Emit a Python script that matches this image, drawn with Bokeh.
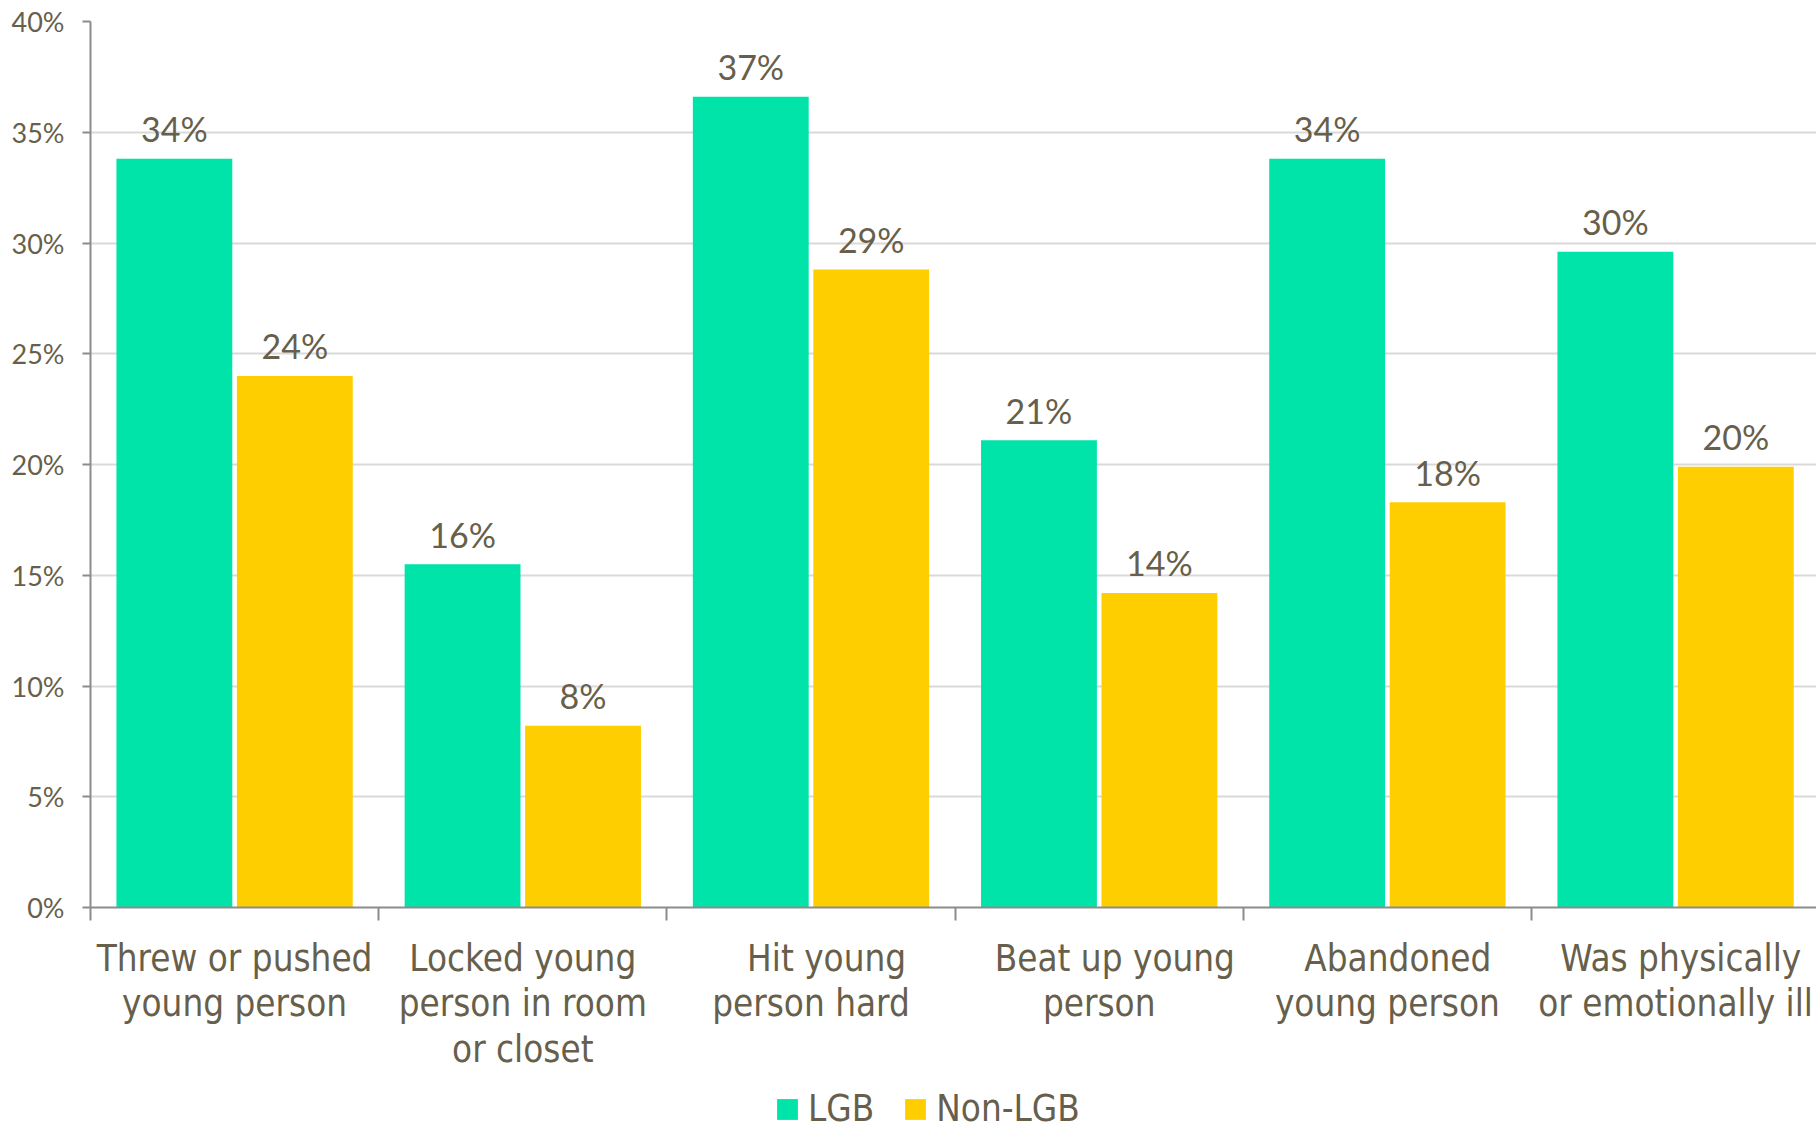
from bokeh.plotting import figure
from bokeh.models import (ColumnDataSource, Range1d, LinearAxis, FixedTicker,
                          Legend, LegendItem, Grid)
from bokeh.layouts import column
from bokeh.core.properties import value
from bokeh.embed import file_html
from bokeh.resources import INLINE

NB = "\u00a0"
categories = ["Threw or pushed\nyoung person",
              "Locked young\nperson in room\nor closet",
              NB * 3 + "Hit young\nperson hard",
              NB * 3 + "Beat up young\nperson",
              NB * 2 + "Abandoned\nyoung person",
              NB + "Was physically\nor emotionally ill"]
series = ["LGB", "Non-LGB"]
lgb = [33.8, 15.5, 36.6, 21.1, 33.8, 29.6]
non_lgb = [24.0, 8.2, 28.8, 14.2, 18.3, 19.9]
lgb_labels = ["34%", "16%", "37%", "21%", "34%", "30%"]
non_lgb_labels = ["24%", "8%", "29%", "14%", "18%", "20%"]
y_ticks = [0, 5, 10, 15, 20, 25, 30, 35, 40]

GREEN = "#00E3A9"
YELLOW = "#FFCE00"
TEXT = "#675F4B"
AXIS = "#8C8C8C"
GRID = "#D9D9D9"
CAT_FONT = "DejaVu Sans Condensed"
NUM_FONT = "Lato"

n = len(categories)
centers = [i + 0.5 for i in range(n)]
off = 0.209
bw = 0.402

src_a = ColumnDataSource(dict(x=[c - off for c in centers], top=lgb, lab=lgb_labels))
src_b = ColumnDataSource(dict(x=[c + off for c in centers], top=non_lgb, lab=non_lgb_labels))

p = figure(frame_width=1726, frame_height=886, output_backend="svg",
           toolbar_location=None, x_range=Range1d(0, 1726 / 288.2),
           y_range=Range1d(0, 40), x_axis_type=None, y_axis_type=None,
           min_border_left=90, min_border_top=21, min_border_right=0,
           min_border_bottom=175)
p.outline_line_color = None
p.background_fill_color = "white"
p.border_fill_color = "white"

grid = Grid(dimension=1, ticker=FixedTicker(ticks=y_ticks[1:]),
            grid_line_color=GRID, grid_line_width=2)
p.add_layout(grid)

ra = p.vbar(x="x", top="top", width=bw, source=src_a, fill_color=GREEN, line_color=None)
rb = p.vbar(x="x", top="top", width=bw, source=src_b, fill_color=YELLOW, line_color=None)

for s in (src_a, src_b):
    p.text(x="x", y="top", text="lab", source=s, text_align="center",
           text_baseline="alphabetic", y_offset=-30, text_color=TEXT,
           text_font=value(NUM_FONT), text_font_size="34px")

# y axis
yaxis = LinearAxis(ticker=FixedTicker(ticks=y_ticks))
yaxis.major_label_overrides = {t: f"{t}%" for t in y_ticks}
yaxis.axis_line_color = AXIS
yaxis.axis_line_width = 2
yaxis.major_tick_line_color = AXIS
yaxis.major_tick_line_width = 2
yaxis.major_tick_out = 8
yaxis.major_tick_in = 0
yaxis.minor_tick_line_color = None
yaxis.major_label_standoff = 18
yaxis.major_label_text_font = NUM_FONT
yaxis.major_label_text_font_size = "27px"
yaxis.major_label_text_color = TEXT
p.add_layout(yaxis, "left")

# x axis: labels at centers, ticks at category boundaries
xaxis = LinearAxis(ticker=FixedTicker(ticks=centers, minor_ticks=list(range(n + 1))))
xaxis.major_label_overrides = {c: lab for c, lab in zip(centers, categories)}
xaxis.axis_line_color = AXIS
xaxis.axis_line_width = 2
xaxis.major_tick_line_color = None
xaxis.major_tick_out = 0
xaxis.major_tick_in = 0
xaxis.minor_tick_line_color = AXIS
xaxis.minor_tick_line_width = 2
xaxis.minor_tick_out = 13
xaxis.minor_tick_in = 0
xaxis.major_label_standoff = 16
xaxis.major_label_text_font = CAT_FONT
xaxis.major_label_text_font_size = "36.5px"
xaxis.major_label_text_line_height = 1.06
xaxis.major_label_text_color = TEXT
p.add_layout(xaxis, "below")

# legend strip (same data, kept outside its visible ranges: only the legend shows)
p2 = figure(frame_width=1816, frame_height=48, output_backend="svg",
            toolbar_location=None, x_range=Range1d(-100, -99),
            y_range=Range1d(-100, -99), x_axis_type=None, y_axis_type=None,
            min_border=0)
p2.outline_line_color = None
p2.xgrid.visible = False
p2.ygrid.visible = False
la = p2.vbar(x="x", top="top", bottom=0, width=bw, source=src_a,
             fill_color=GREEN, line_color=None)
lb = p2.vbar(x="x", top="top", bottom=0, width=bw, source=src_b,
             fill_color=YELLOW, line_color=None)
legend = Legend(items=[LegendItem(label=series[0], renderers=[la]),
                       LegendItem(label=series[1], renderers=[lb])],
                orientation="horizontal", location=(774, 0),
                label_text_font=CAT_FONT, label_text_font_size="36.5px",
                label_text_color=TEXT, glyph_width=26, glyph_height=26,
                label_standoff=8, spacing=28, border_line_color=None,
                background_fill_alpha=0, padding=0, margin=0)
p2.add_layout(legend, "center")

layout = column(p, p2, spacing=0)
open("out.html", "w").write(file_html(layout, INLINE))
